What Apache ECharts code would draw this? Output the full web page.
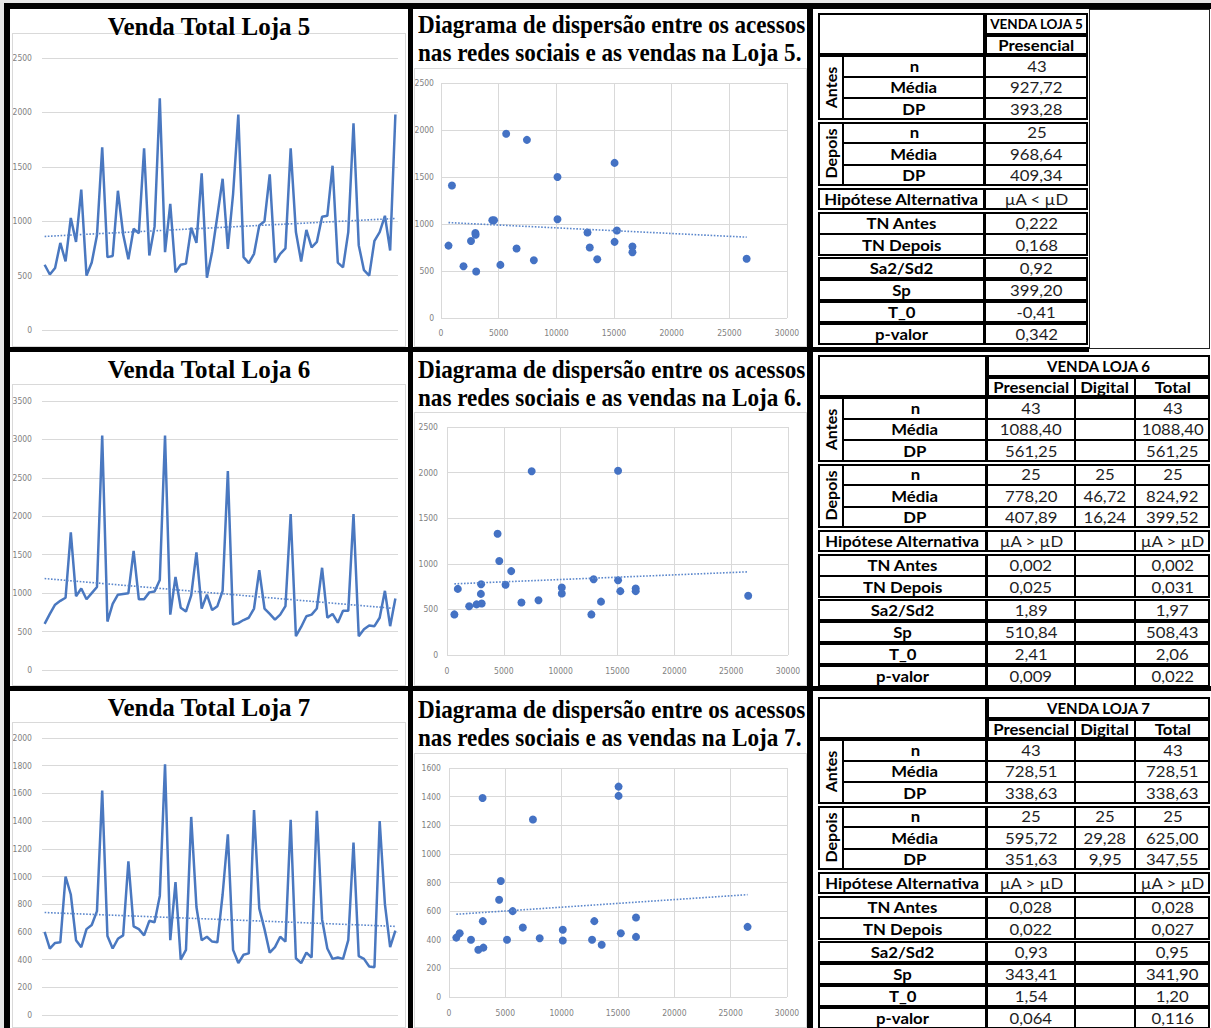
<!DOCTYPE html>
<html lang="pt">
<head>
<meta charset="utf-8">
<title>Vendas Lojas 5, 6 e 7</title>
<script src="https://cdn.jsdelivr.net/npm/echarts@6/dist/echarts.min.js"></script>
<style>
  html, body { margin: 0; padding: 0; background: #fff; }
  #pagina { position: relative; width: 1211px; height: 1028px; overflow: hidden; background: #fff; }
  #graficos { position: absolute; left: 0; top: 0; width: 1211px; height: 1028px; }
  .barra { position: absolute; background: #000; }
  .quadro { position: absolute; box-sizing: border-box; border: 1px solid #d9d9d9; }
  .titulo { position: absolute; font-family: "Liberation Serif", "Times New Roman", serif; font-weight: bold; color: #000; white-space: nowrap; }
  .cel { position: absolute; box-sizing: border-box; border-style: solid; border-color: #000; }
  .txt { position: absolute; display: flex; align-items: center; justify-content: center; font-family: Lato, "Open Sans", sans-serif; white-space: nowrap; color: #1a1a1a; }
  .txt span { display: inline-block; transform: scaleX(1.08); }
  .txt.rot span { transform: rotate(-90deg); }
  .txt.cab span { transform: none; }
</style>
</head>
<body>
<div id="pagina">
  <div id="graficos"></div>
  <div id="camada"></div>
</div>
<script>
// ---- Semanas (68 = 43 antes + 25 depois) ----
const semanas = ['1','2','3','4','5','6','7','8','9','10','11','12','13','14','15','16','17','18','19','20',
  '21','22','23','24','25','26','27','28','29','30','31','32','33','34','35','36','37','38','39','40',
  '41','42','43','44','45','46','47','48','49','50','51','52','53','54','55','56','57','58','59','60',
  '61','62','63','64','65','66','67','68'];

// ---- Venda total semanal por loja ----
const vendaLoja5 = [600,510,570,800,630,1030,810,1290,500,620,870,1680,670,680,1280,880,650,930,890,1670,
  685,950,2130,715,1160,530,600,610,940,800,1440,480,720,1050,1390,745,1250,1980,670,615,
  700,960,1000,1430,620,700,750,1670,900,630,920,760,810,1040,1050,1510,620,575,900,1900,
  780,550,500,820,900,1050,730,1980];
const vendaLoja6 = [600,730,850,900,940,1790,960,1060,920,1000,1080,3050,630,860,980,990,1000,1550,920,920,
  1010,1020,1170,3050,720,1210,810,760,970,1530,800,980,780,830,1030,2590,590,610,650,680,
  800,1300,800,730,655,720,830,2030,440,560,700,720,800,1330,680,730,615,770,770,2030,
  440,530,580,570,680,1030,570,930];
const vendaLoja7 = [600,480,520,525,1000,870,540,490,620,650,750,1620,570,480,550,575,1110,640,620,575,
  680,670,860,1810,540,960,400,470,1430,780,540,565,530,525,870,1305,470,375,435,445,
  1480,770,620,450,490,565,530,1410,410,375,450,415,1475,690,480,405,415,405,540,1245,
  425,405,350,345,1400,800,490,610];

// Linhas de tendência (valor inicial, valor final)
const tendenciaVenda5 = [860, 1025];
const tendenciaVenda6 = [1190, 800];
const tendenciaVenda7 = [740, 640];

// ---- Acessos nas redes sociais (semanas "depois") e vendas ----
const acessos = [650, 950, 1950, 2600, 2980, 3000, 3050, 4450, 4600, 5150, 5650, 6550, 7450,
  8050, 10100, 10100, 12700, 12900, 13550, 15050, 15050, 15250, 16600, 16600, 26500];
const dispLoja5 = [770, 1410, 550, 820, 905, 885, 495, 1040, 1040, 565, 1960, 740, 1895,
  615, 1500, 1050, 910, 750, 625, 1650, 810, 930, 760, 700, 630];
const dispLoja6 = [445, 725, 535, 555, 670, 775, 565, 1330, 1030, 770, 920, 575, 2015,
  600, 740, 675, 445, 830, 585, 2020, 820, 700, 730, 700, 650];
const dispLoja7 = [415, 445, 400, 330, 1390, 530, 345, 680, 810, 400, 600, 485, 1240,
  410, 470, 395, 400, 530, 365, 1470, 1405, 445, 555, 420, 490];

const tendenciaDisp5 = [1015, 860];
const tendenciaDisp6 = [780, 912];
const tendenciaDisp7 = [578, 715];

// ---- Tabelas de teste de hipótese ----
const rotulosLinhas = ['n','Média','DP','n','Média','DP','Hipótese Alternativa','TN Antes','TN Depois','Sa2/Sd2','Sp','T_0','p-valor'];
const loja5Presencial = ['43','927,72','393,28','25','968,64','409,34','µA < µD','0,222','0,168','0,92','399,20','-0,41','0,342'];
const loja6Presencial = ['43','1088,40','561,25','25','778,20','407,89','µA > µD','0,002','0,025','1,89','510,84','2,41','0,009'];
const loja6Digital    = ['','','','25','46,72','16,24','','','','','','',''];
const loja6Total      = ['43','1088,40','561,25','25','824,92','399,52','µA > µD','0,002','0,031','1,97','508,43','2,06','0,022'];
const loja7Presencial = ['43','728,51','338,63','25','595,72','351,63','µA > µD','0,028','0,022','0,93','343,41','1,54','0,064'];
const loja7Digital    = ['','','','25','29,28','9,95','','','','','','',''];
const loja7Total      = ['43','728,51','338,63','25','625,00','347,55','µA > µD','0,028','0,027','0,95','341,90','1,20','0,116'];

// ================= Gráficos =================
const azulLinha = '#4a78c0';
const azulPonto = '#4472c4';
const azulTend = '#5b87cc';
const gradeCor = '#d9d9d9';
const eixoFonte = {
  color: '#7f7f7f', fontSize: 8.5,
  fontFamily: '"Liberation Sans Narrow","DejaVu Sans Condensed",sans-serif',
  formatter: v => String(v)
};

const paineisVenda = [
  { dados: vendaLoja5, tend: tendenciaVenda5, max: 2500, intervalo: 500, top: 58, height: 272 },
  { dados: vendaLoja6, tend: tendenciaVenda6, max: 3500, intervalo: 500, top: 401, height: 269 },
  { dados: vendaLoja7, tend: tendenciaVenda7, max: 2000, intervalo: 200, top: 738, height: 277 }
];
const paineisDisp = [
  { dados: dispLoja5, tend: tendenciaDisp5, max: 2500, intervalo: 500, left: 441, width: 346, top: 83, height: 235, margemY: 7, margemX: 10 },
  { dados: dispLoja6, tend: tendenciaDisp6, max: 2500, intervalo: 500, left: 447, width: 341, top: 427, height: 228, margemY: 9, margemX: 11 },
  { dados: dispLoja7, tend: tendenciaDisp7, max: 1600, intervalo: 200, left: 449, width: 338, top: 768, height: 229, margemY: 8, margemX: 11 }
];

const grids = [], xAxes = [], yAxes = [], series = [];

paineisVenda.forEach((p, i) => {
  grids.push({ left: 42, top: p.top, width: 356, height: p.height });
  xAxes.push({ type: 'category', gridIndex: i, data: semanas, boundaryGap: true,
    axisLine: { show: false }, axisTick: { show: false }, axisLabel: { show: false }, splitLine: { show: false } });
  yAxes.push({ type: 'value', gridIndex: i, min: 0, max: p.max, interval: p.intervalo,
    axisLine: { show: false }, axisTick: { show: false },
    axisLabel: Object.assign({ margin: 10 }, eixoFonte),
    splitLine: { lineStyle: { color: gradeCor, width: 1 } } });
  series.push({
    type: 'line', xAxisIndex: i, yAxisIndex: i, data: p.dados, symbol: 'none',
    lineStyle: { color: azulLinha, width: 2.5 }, z: 3,
    markLine: {
      silent: true, symbol: ['none', 'none'], label: { show: false },
      lineStyle: { color: azulTend, width: 1.6, type: [1.6, 1.6] },
      data: [[{ coord: [semanas[0], p.tend[0]] }, { coord: [semanas[semanas.length - 1], p.tend[1]] }]]
    }
  });
});

paineisDisp.forEach((p, j) => {
  const k = j + 3;
  grids.push({ left: p.left, top: p.top, width: p.width, height: p.height });
  xAxes.push({ type: 'value', gridIndex: k, min: 0, max: 30000, interval: 5000,
    axisLine: { show: false }, axisTick: { show: false },
    axisLabel: Object.assign({ margin: p.margemX }, eixoFonte),
    splitLine: { lineStyle: { color: gradeCor, width: 1 } } });
  yAxes.push({ type: 'value', gridIndex: k, min: 0, max: p.max, interval: p.intervalo,
    axisLine: { show: false }, axisTick: { show: false },
    axisLabel: Object.assign({ margin: p.margemY }, eixoFonte),
    splitLine: { lineStyle: { color: gradeCor, width: 1 } } });
  series.push({
    type: 'scatter', xAxisIndex: k, yAxisIndex: k,
    data: acessos.map((a, i) => [a, p.dados[i]]),
    symbolSize: 8, itemStyle: { color: azulPonto, opacity: 1 }, z: 3,
    markLine: {
      silent: true, symbol: ['none', 'none'], label: { show: false },
      lineStyle: { color: azulTend, width: 1.6, type: [1.6, 1.6] },
      data: [[{ coord: [acessos[0], p.tend[0]] }, { coord: [acessos[acessos.length - 1], p.tend[1]] }]]
    }
  });
});

const chart = echarts.init(document.getElementById('graficos'), null, { renderer: 'svg', width: 1211, height: 1028 });
chart.setOption({
  animation: false,
  backgroundColor: 'transparent',
  grid: grids, xAxis: xAxes, yAxis: yAxes, series: series
});

// ================= Molduras, títulos e tabelas =================
const camada = document.getElementById('camada');

function bloco(cls, x, y, w, h, estilo) {
  const d = document.createElement('div');
  d.className = cls;
  const pos = { left: x + 'px', top: y + 'px' };
  if (w != null) pos.width = w + 'px';
  if (h != null) pos.height = h + 'px';
  Object.assign(d.style, pos, estilo || {});
  camada.appendChild(d);
  return d;
}
function caixa(x, y, w, h, borda) {
  return bloco('cel', x, y, w, h, { borderWidth: borda + 'px' });
}
function texto(x, y, w, h, s, negrito, tamanho, extra) {
  const d = bloco('txt' + (extra ? ' ' + extra : ''), x, y, w, h, {
    fontWeight: negrito ? '700' : '400', fontSize: tamanho + 'px', color: negrito ? '#000' : '#1f1f1f'
  });
  const sp = document.createElement('span');
  sp.textContent = s;
  d.appendChild(sp);
  return d;
}

// Molduras finas das áreas de gráfico
[[12, 33, 394, 314], [12, 384, 394, 302], [12, 722, 394, 306]].forEach(q => bloco('quadro', q[0], q[1], q[2], q[3]));
[[414, 68, 393, 279], [414, 412, 393, 274], [414, 753, 393, 275]].forEach(q => bloco('quadro', q[0], q[1], q[2], q[3]));

// Títulos dos gráficos de linha
[['Venda Total Loja 5', 13], ['Venda Total Loja 6', 356], ['Venda Total Loja 7', 694]].forEach(t => {
  const d = bloco('titulo', 12, t[1], 394, 28, { fontSize: '25px', lineHeight: '28px', textAlign: 'center' });
  d.textContent = t[0];
});

// Títulos dos diagramas de dispersão (duas linhas ajustadas a 387 px de largura)
[['5.', 10.5], ['6.', 355.5], ['7.', 695.5]].forEach(t => {
  const linhas = ['Diagrama de dispersão entre os acessos', 'nas redes sociais e as vendas na Loja ' + t[0]];
  const els = linhas.map((s, i) => {
    const d = bloco('titulo', 418, t[1] + i * 28, null, 28, { fontSize: '25px', lineHeight: '28px', transformOrigin: '0 0' });
    d.textContent = s;
    return d;
  });
  const escala = 387 / els[0].offsetWidth;
  els.forEach(d => { d.style.transform = 'scaleX(' + escala.toFixed(4) + ')'; });
});

// Tabelas
const linhaY = [42, 63.5, 85, 108.5, 130, 151.5, 175, 199, 221, 244, 266, 288, 310];
const linhaH = [21.5, 21.5, 21.5, 21.5, 21.5, 21.5, 22, 22, 22, 22, 22, 22, 22];
const grupos = [[0, 2, 'Antes'], [3, 5, 'Depois'], [6, 6], [7, 8], [9, 9], [10, 10], [11, 11], [12, 12]];

function desenhaTabela(topo, titulo, cabecalhos, colunas, xs, tamTitulo) {
  const xA = xs[0], xB = xs[1], xP = xs[2], xE = xs[xs.length - 1];
  const tam = 15.5;
  // canto vazio
  caixa(xA, topo, xP - xA, 42, 2);
  // título
  caixa(xP, topo, xE - xP, 22, 2);
  texto(xP, topo, xE - xP, 22, titulo, true, tamTitulo, 'cab');
  // cabeçalhos das colunas
  cabecalhos.forEach((c, i) => {
    caixa(xs[2 + i], topo + 22, xs[3 + i] - xs[2 + i], 20, 1);
    texto(xs[2 + i], topo + 22, xs[3 + i] - xs[2 + i], 20, c, true, tam);
  });
  caixa(xP, topo + 22, xE - xP, 20, 2);

  grupos.forEach(g => {
    const y0 = topo + linhaY[g[0]];
    const y1 = topo + linhaY[g[1]] + linhaH[g[1]];
    for (let r = g[0]; r <= g[1]; r++) {
      const y = topo + linhaY[r], h = linhaH[r];
      const xl = g[2] ? xB : xA;
      caixa(xl, y, xP - xl, h, 1);
      texto(xl, y, xP - xl, h, rotulosLinhas[r], true, tam);
      colunas.forEach((col, i) => {
        caixa(xs[2 + i], y, xs[3 + i] - xs[2 + i], h, 1);
        if (col[r]) texto(xs[2 + i], y, xs[3 + i] - xs[2 + i], h, col[r], false, tam);
      });
    }
    if (g[2]) {
      caixa(xA, y0, xB - xA, y1 - y0, 1);
      texto(xA, y0, xB - xA, y1 - y0, g[2], true, 16, 'rot');
    }
    caixa(xA, y0, xP - xA, y1 - y0, 2);
    caixa(xA, y0, xE - xA, y1 - y0, 2);
  });
}

desenhaTabela(13, 'VENDA LOJA 5', ['Presencial'], [loja5Presencial], [818, 843, 985, 1088], 13.5);
desenhaTabela(355, 'VENDA LOJA 6', ['Presencial', 'Digital', 'Total'], [loja6Presencial, loja6Digital, loja6Total], [818, 843, 987, 1075, 1135, 1210], 15);
desenhaTabela(697, 'VENDA LOJA 7', ['Presencial', 'Digital', 'Total'], [loja7Presencial, loja7Digital, loja7Total], [818, 843, 987, 1075, 1135, 1210], 15);

// Caixa vazia à direita da primeira tabela
bloco('cel', 1089, 9, 121, 340, { borderWidth: '1.5px', borderColor: '#222' });

// Bordas pretas que separam os painéis
bloco('barra', 0, 0, 1211, 3, { background: '#e6e6e6' });
bloco('barra', 0, 0, 4, 1028, { background: '#e6e6e6' });
bloco('barra', 4, 3, 1207, 6);
bloco('barra', 4, 3, 6, 1025);
bloco('barra', 408, 3, 5, 1025);
bloco('barra', 807, 3, 6, 1025);
bloco('barra', 4, 347, 1085, 5);
bloco('barra', 4, 686, 1207, 5);
</script>
</body>
</html>
